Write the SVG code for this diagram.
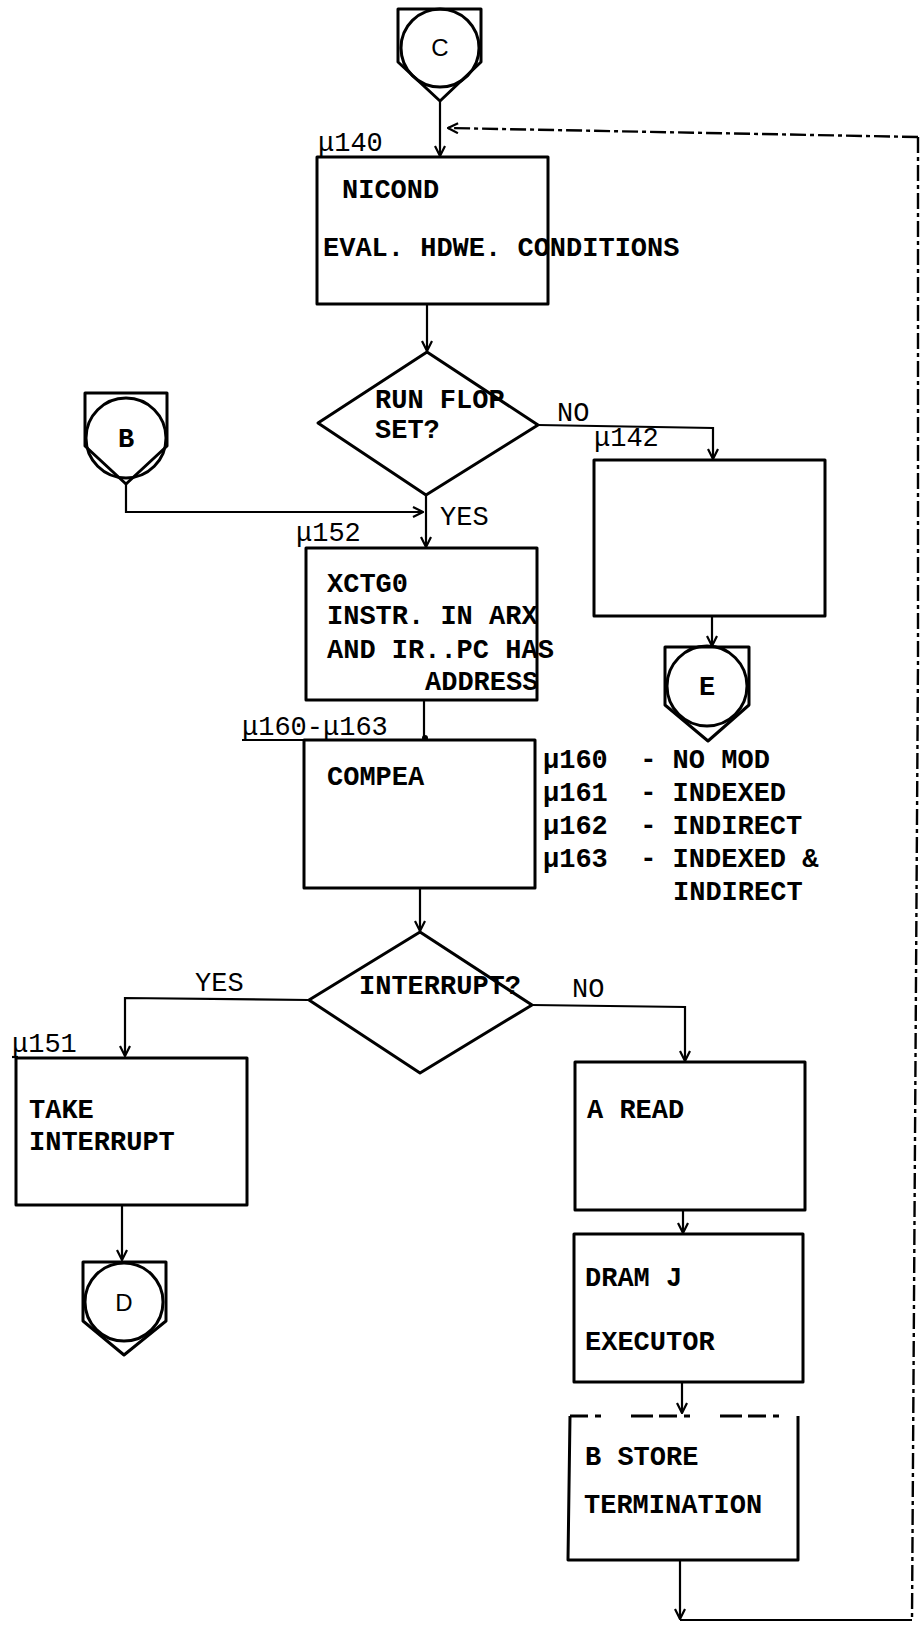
<svg xmlns="http://www.w3.org/2000/svg" width="921" height="1627" viewBox="0 0 921 1627">
<style>
.bx{fill:none;stroke:#000;stroke-width:3;stroke-linejoin:round}
.ln{fill:none;stroke:#000;stroke-width:2.2}
.dash{fill:none;stroke:#000;stroke-width:2.4;stroke-dasharray:16 4 4 4}
.t{font-family:"Liberation Mono","Courier New",monospace;font-size:27px;font-weight:bold;fill:#000}
.l{font-family:"Liberation Mono","Courier New",monospace;font-size:27px;fill:#000}
.c{font-family:"Liberation Sans",Arial,sans-serif;font-size:24px;fill:#000;text-anchor:middle}
</style>
<defs>
<marker id="arr" viewBox="0 0 12 12" refX="11" refY="6" markerWidth="12" markerHeight="12" orient="auto" markerUnits="userSpaceOnUse">
<path d="M1,1 L11,6 L1,11" fill="none" stroke="#000" stroke-width="2.2"/>
</marker>
</defs>
<rect width="921" height="1627" fill="#fff"/>

<g id="connectors">
<path class="ln" d="M440,102 V156" marker-end="url(#arr)"/>
<path class="dash" d="M918,137 V660 L912,1620"/>
<path class="dash" d="M918,137 L448,128" marker-end="url(#arr)"/>
<path class="ln" d="M680,1560 V1619" marker-end="url(#arr)"/>
<path class="ln" d="M680,1620 H912"/>
<path class="ln" d="M427,305 V351" marker-end="url(#arr)"/>
<path class="ln" d="M538,425 L713,428 V459" marker-end="url(#arr)"/>
<path class="ln" d="M712,617 V646" marker-end="url(#arr)"/>
<path class="ln" d="M126,484 V512 H423" marker-end="url(#arr)"/>
<path class="ln" d="M426,495 V547" marker-end="url(#arr)"/>
<path class="ln" d="M424,700 V738"/>
<circle cx="425" cy="738" r="3" fill="#000"/>
<path class="ln" d="M420,889 V931" marker-end="url(#arr)"/>
<path class="ln" d="M309,1000 L125,998 V1056" marker-end="url(#arr)"/>
<path class="ln" d="M532,1005 L685,1007 V1061" marker-end="url(#arr)"/>
<path class="ln" d="M122,1205 V1260" marker-end="url(#arr)"/>
<path class="ln" d="M683,1210 V1233" marker-end="url(#arr)"/>
<path class="ln" d="M682,1382 V1413" marker-end="url(#arr)"/>
<text class="l" x="557" y="421">NO</text>
<text class="l" x="440" y="525">YES</text>
<text class="l" x="195" y="991">YES</text>
<text class="l" x="572" y="997">NO</text>
</g>

<g id="conn-C">
<path class="bx" d="M398,9 H481 V62 L440,101 L398,62 Z"/>
<circle cx="440" cy="48" r="39" class="bx"/>
<text class="c" x="440" y="56">C</text>
</g>

<g id="n140">
<text class="l" x="318" y="151">μ140</text>
<rect class="bx" x="317" y="157" width="231" height="147"/>
<text class="t" x="342" y="198">NICOND</text>
<text class="t" x="323" y="256">EVAL. HDWE. CONDITIONS</text>
</g>

<g id="d-runflop">
<path class="bx" d="M318,423 L427,352 L538,425 L426,495 Z"/>
<text class="t" x="375" y="408">RUN FLOP</text>
<text class="t" x="375" y="438">SET?</text>
</g>

<g id="conn-B">
<path class="bx" d="M85,393 H167 V446 L126,484 L85,446 Z"/>
<circle cx="126" cy="438" r="40" class="bx"/>
<text class="t" x="126" y="447" text-anchor="middle" font-size="22">B</text>
</g>

<g id="n142">
<text class="l" x="594" y="446">μ142</text>
<rect class="bx" x="594" y="460" width="231" height="156"/>
</g>

<g id="conn-E">
<path class="bx" d="M665,647 H749 V705 L708,741 L665,705 Z"/>
<circle cx="707" cy="686" r="40" class="bx"/>
<text class="t" x="707" y="695" text-anchor="middle" font-size="22">E</text>
</g>

<g id="n152">
<text class="l" x="296" y="541">μ152</text>
<rect class="bx" x="306" y="548" width="231" height="152"/>
<text class="t" x="327" y="592">XCTG0</text>
<text class="t" x="327" y="624">INSTR. IN ARX</text>
<text class="t" x="327" y="658">AND IR..PC HAS</text>
<text class="t" x="425" y="690">ADDRESS</text>
</g>

<g id="n160">
<text class="l" x="242" y="735">μ160-μ163</text>
<line class="ln" x1="242" y1="740" x2="306" y2="740"/>
<rect class="bx" x="304" y="740" width="231" height="148"/>
<text class="t" x="327" y="785">COMPEA</text>
<text class="t" x="543" y="768" xml:space="preserve">μ160  - NO MOD</text>
<text class="t" x="543" y="801" xml:space="preserve">μ161  - INDEXED</text>
<text class="t" x="543" y="834" xml:space="preserve">μ162  - INDIRECT</text>
<text class="t" x="543" y="867" xml:space="preserve">μ163  - INDEXED &amp;</text>
<text class="t" x="673" y="900">INDIRECT</text>
</g>

<g id="d-interrupt">
<path class="bx" d="M309,1000 L420,932 L532,1005 L420,1073 Z"/>
<text class="t" x="359" y="994">INTERRUPT?</text>
</g>

<g id="n151">
<text class="l" x="12" y="1052">μ151</text>
<line class="ln" x1="12" y1="1057" x2="18" y2="1057"/>
<rect class="bx" x="16" y="1058" width="231" height="147"/>
<text class="t" x="29" y="1118">TAKE</text>
<text class="t" x="29" y="1150">INTERRUPT</text>
</g>

<g id="conn-D">
<path class="bx" d="M83,1262 H166 V1321 L124,1355 L83,1321 Z"/>
<circle cx="124" cy="1302" r="39" class="bx"/>
<text class="c" x="124" y="1311">D</text>
</g>

<g id="n-aread">
<rect class="bx" x="575" y="1062" width="230" height="148"/>
<text class="t" x="587" y="1118">A READ</text>
</g>

<g id="n-dram">
<rect class="bx" x="574" y="1234" width="229" height="148"/>
<text class="t" x="585" y="1286">DRAM J</text>
<text class="t" x="585" y="1350">EXECUTOR</text>
</g>

<g id="n-bstore">
<path class="bx" d="M570,1416 L568,1560 H798 V1416"/>
<path fill="none" stroke="#000" stroke-width="3" stroke-dasharray="18 7 6 30 22 6" d="M570,1416 H798"/>
<text class="t" x="585" y="1465">B STORE</text>
<text class="t" x="584" y="1513">TERMINATION</text>
</g>
</svg>
